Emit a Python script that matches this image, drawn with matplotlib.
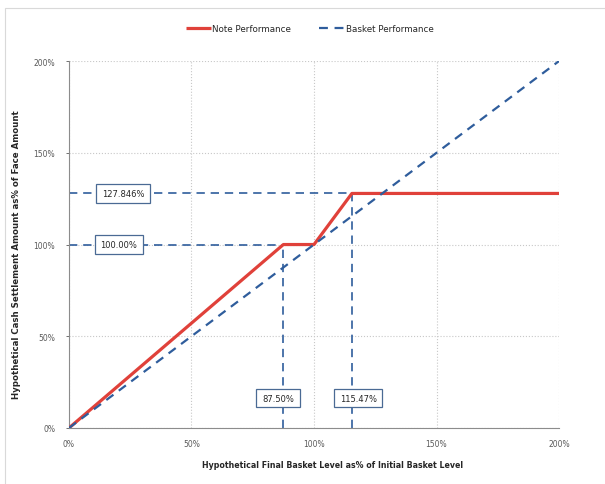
import matplotlib
matplotlib.use("Agg")
import matplotlib.pyplot as plt
from matplotlib.patches import Rectangle
from matplotlib.path import Path

# Data
note_x = [0, 87.5, 100, 115.47, 200]
note_y = [0, 100, 100, 127.846, 127.846]
basket_x = [0, 200]
basket_y = [0, 200]
ticks = [0, 50, 100, 150, 200]
tick_labels = ["0%", "50%", "100%", "150%", "200%"]
cap_level = 127.846
floor_level = 100.0
knee_x = 87.5
cap_x = 115.47
labels_y = [("127.846%", 22.2, cap_level), ("100.00%", 20.4, floor_level)]
labels_x = [("87.50%", 85.3, 16.3), ("115.47%", 118.0, 16.3)]

red = "#e0413a"
blue = "#2f5d9c"

fig = plt.figure(figsize=(6.05, 4.85), dpi=100)
fig.patch.set_facecolor("white")
fig.add_artist(Rectangle((0.009, -0.01), 1.2, 0.992, transform=fig.transFigure,
                         fill=False, edgecolor="#d9d9d9", linewidth=0.8))
ax = fig.add_axes([0.114, 0.1155, 0.81, 0.7565])

ax.set_xlim(0, 200)
ax.set_ylim(0, 200)
ax.set_xticks(ticks)
ax.set_yticks(ticks)
ax.set_xticklabels(tick_labels)
ax.set_yticklabels(tick_labels)
ax.tick_params(labelsize=5.5, colors="#595959", length=2, width=0.6, pad=8)
ax.tick_params(axis="x", length=0, pad=8)
ax.grid(True, linestyle=":", color="#c8c8c8", linewidth=0.8)
for s in ["top", "right"]:
    ax.spines[s].set_visible(False)
for s in ["left", "bottom"]:
    ax.spines[s].set_color("#8c8c8c")
    ax.spines[s].set_linewidth(0.8)

dash = dict(color=blue, linestyle=(0, (5, 3.5)), linewidth=1.2)
ax.plot([0, cap_x], [cap_level, cap_level], **dash, zorder=2)
ax.plot([0, knee_x], [floor_level, floor_level], **dash, zorder=2)
ax.plot([knee_x, knee_x], [0, floor_level], **dash, zorder=2)
ax.plot([cap_x, cap_x], [0, cap_level], **dash, zorder=2)

ax.plot(note_x, note_y, color=red, linewidth=2.3, label="Note Performance", zorder=3,
        solid_capstyle="butt")
ax.plot(basket_x, basket_y, color=blue, linestyle=(0, (4, 3)), linewidth=1.6,
        label="Basket Performance", zorder=4)


def boxpath(x0, y0, width, height, mutation_size):
    px = 0.7 * mutation_size
    py = 0.55 * mutation_size
    x0, y0 = x0 - px, y0 - py
    x1, y1 = x0 + width + 2 * px, y0 + height + 2 * py
    return Path([(x0, y0), (x1, y0), (x1, y1), (x0, y1), (x0, y0)], closed=True)


for txt, x, y in labels_y + labels_x:
    t = ax.text(x, y, txt, fontsize=6, color="#262626", ha="center", va="center", zorder=5,
                bbox=dict(boxstyle="square", facecolor="white", edgecolor="#4a6a94", linewidth=0.9))
    t.get_bbox_patch().set_boxstyle(boxpath)

ax.set_xlabel("Hypothetical Final Basket Level as% of Initial Basket Level",
              fontsize=5.7, fontweight="bold", color="#262626")
ax.xaxis.set_label_coords(0.537, -0.088)
ax.set_ylabel("Hypothetical Cash Settlement Amount as% of Face Amount",
              fontsize=6.25, fontweight="bold", color="#262626")
ax.yaxis.set_label_coords(-0.098, 0.475)

leg = fig.legend(loc="center", bbox_to_anchor=(0.512, 0.94), ncol=2, frameon=False,
                 fontsize=6.3, handlelength=2.8, columnspacing=3.2, handletextpad=0.2)
for t in leg.get_texts():
    t.set_color("#262626")

fig.savefig("out.png", dpi=100)
